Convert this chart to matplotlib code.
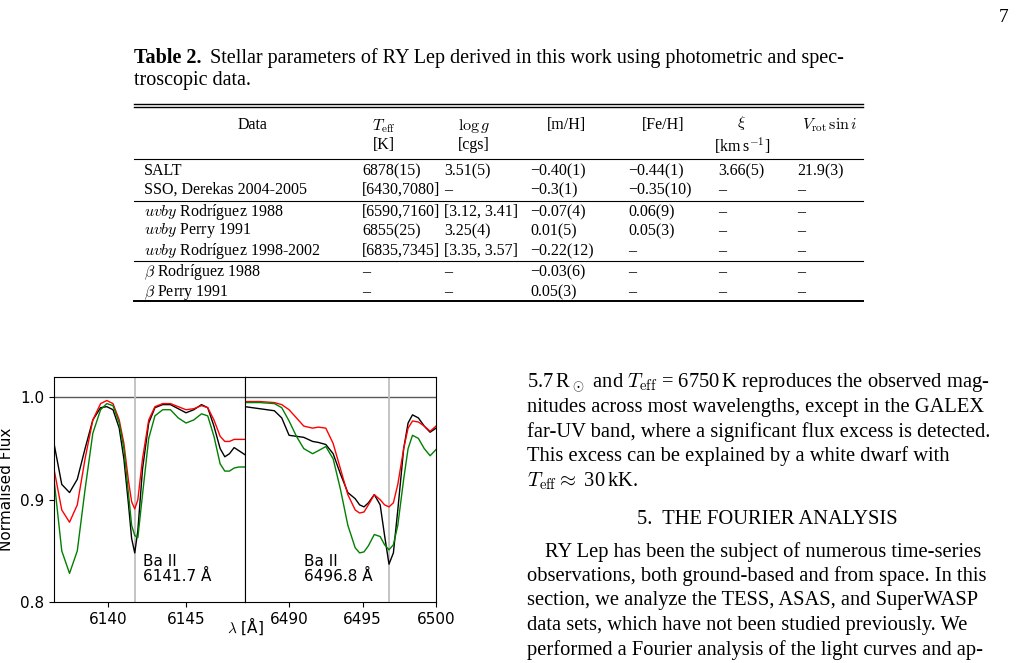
import matplotlib
matplotlib.use("Agg")
import matplotlib.pyplot as plt

plt.rcParams['mathtext.fontset'] = 'cm'
SERIF = 'Liberation Serif'

# ---- data: Ba II 6141.7 panel ----
wl_a = [6136.5, 6137.0, 6137.5, 6138.0, 6138.5, 6139.0, 6139.5, 6139.9, 6140.3, 6140.7, 6141.0,
        6141.3, 6141.5, 6141.7, 6141.9, 6142.2, 6142.6, 6143.0, 6143.5, 6144.0, 6144.5, 6145.0,
        6145.5, 6146.0, 6146.4, 6146.8, 6147.2, 6147.5, 6147.8, 6148.1, 6148.4, 6148.8]
blk_a = [0.955, 0.915, 0.907, 0.920, 0.950, 0.978, 0.990, 0.991, 0.988, 0.970, 0.940,
         0.895, 0.862, 0.848, 0.870, 0.930, 0.975, 0.990, 0.993, 0.993, 0.989, 0.985,
         0.988, 0.993, 0.990, 0.972, 0.950, 0.942, 0.945, 0.951, 0.948, 0.944]
red_a = [0.930, 0.890, 0.878, 0.895, 0.940, 0.978, 0.994, 0.997, 0.994, 0.978, 0.955,
         0.918, 0.898, 0.891, 0.900, 0.940, 0.978, 0.991, 0.994, 0.994, 0.991, 0.988,
         0.989, 0.992, 0.990, 0.978, 0.962, 0.957, 0.957, 0.959, 0.959, 0.959]
grn_a = [0.920, 0.850, 0.828, 0.850, 0.910, 0.965, 0.988, 0.994, 0.992, 0.975, 0.950,
         0.905, 0.875, 0.865, 0.863, 0.905, 0.960, 0.982, 0.988, 0.988, 0.980, 0.975,
         0.978, 0.984, 0.982, 0.962, 0.935, 0.928, 0.928, 0.931, 0.932, 0.932]

# ---- data: Ba II 6496.8 panel ----
wl_b = [6487.0, 6488.0, 6489.0, 6489.5, 6490.0, 6490.5, 6491.0, 6491.6, 6492.0, 6492.5, 6493.0,
        6493.5, 6494.0, 6494.5, 6494.8, 6495.1, 6495.4, 6495.8, 6496.2, 6496.5, 6496.8, 6497.1,
        6497.4, 6497.8, 6498.1, 6498.4, 6498.8, 6499.2, 6499.6, 6500.0]
blk_b = [0.991, 0.989, 0.987, 0.980, 0.963, 0.962, 0.961, 0.957, 0.956, 0.954, 0.945,
         0.925, 0.907, 0.901, 0.895, 0.893, 0.897, 0.905, 0.895, 0.865, 0.837, 0.848,
         0.890, 0.950, 0.975, 0.983, 0.980, 0.972, 0.966, 0.970]
red_b = [0.996, 0.996, 0.995, 0.993, 0.988, 0.980, 0.972, 0.970, 0.971, 0.970, 0.955,
         0.930, 0.905, 0.890, 0.887, 0.888, 0.895, 0.905, 0.900, 0.895, 0.893, 0.897,
         0.915, 0.950, 0.970, 0.977, 0.976, 0.972, 0.967, 0.972]
grn_b = [0.995, 0.995, 0.994, 0.990, 0.977, 0.962, 0.950, 0.945, 0.948, 0.952, 0.940,
         0.910, 0.875, 0.853, 0.848, 0.849, 0.855, 0.866, 0.864, 0.856, 0.851, 0.856,
         0.875, 0.920, 0.950, 0.963, 0.960, 0.950, 0.943, 0.949]

lines = [6141.7, 6496.8]
labels = ["Ba II\n6141.7 Å", "Ba II\n6496.8 Å"]
label_x = [6142.2, 6491.0]

fig = plt.figure(figsize=(10.16, 6.63), dpi=100)
W, H = 1016, 663
def fx(x): return x / W
def fy(y): return 1 - y / H

fig.text(fx(1008), fy(18), "7", ha='right', va='center', family=SERIF, fontsize=14)

# ---- Table ----
tfs = 11.5
fig.text(fx(134), fy(58), "Table 2.", ha='left', va='center', family=SERIF, fontsize=14.5, fontweight='bold')
fig.text(fx(210), fy(58), "Stellar parameters of RY Lep derived in this work using photometric and spec-",
         ha='left', va='center', family=SERIF, fontsize=14.5)
fig.text(fx(134), fy(81), "troscopic data.", ha='left', va='center', family=SERIF, fontsize=14.5)
def rule(y, lw=0.8):
    fig.add_artist(plt.Line2D([fx(134), fx(863)], [fy(y), fy(y)], color='k', lw=lw))
rule(104, 1.0); rule(107, 1.0); rule(159); rule(201); rule(261); rule(301, 1.4)
heads = [(253, "Data"), (384, "$T_{\\rm eff}$\n[K]"), (474, "$\\log g$\n[cgs]"), (567, "[m/H]"),
         (663, "[Fe/H]"), (742, "$\\xi$\n[km$\\,$s$^{-1}$]"), (830, "$V_{\\rm rot}\\,\\sin i$")]
for x, t in heads:
    if "\n" in t:
        fig.text(fx(x), fy(135), t, ha='center', va='center', family=SERIF, fontsize=tfs, linespacing=1.2)
    else:
        fig.text(fx(x), fy(125), t, ha='center', va='center', family=SERIF, fontsize=tfs)
cols = [144, 362, 444, 530, 628, 718, 797]
rows = [
    (171, ["SALT", "6878(15)", "3.51(5)", "−0.40(1)", "−0.44(1)", "3.66(5)", "21.9(3)"]),
    (190, ["SSO, Derekas 2004-2005", "[6430,7080]", "–", "−0.3(1)", "−0.35(10)", "–", "–"]),
    (212, ["$uvby$ Rodríguez 1988", "[6590,7160]", "[3.12, 3.41]", "−0.07(4)", "0.06(9)", "–", "–"]),
    (231, ["$uvby$ Perry 1991", "6855(25)", "3.25(4)", "0.01(5)", "0.05(3)", "–", "–"]),
    (251, ["$uvby$ Rodríguez 1998-2002", "[6835,7345]", "[3.35, 3.57]", "−0.22(12)", "–", "–", "–"]),
    (272, ["$\\beta$ Rodríguez 1988", "–", "–", "−0.03(6)", "–", "–", "–"]),
    (292, ["$\\beta$ Perry 1991", "–", "–", "0.05(3)", "–", "–", "–"]),
]
for y, vals in rows:
    for x, v in zip(cols, vals):
        fig.text(fx(x), fy(y), v, ha='left', va='center', family=SERIF, fontsize=tfs)

# ---- Body text ----
bfs = 14.8
body1 = [
    r"5.7$\,$R$_\odot$ and $T_{\rm eff}$ = 6750$\,$K reproduces the observed mag-",
    "nitudes across most wavelengths, except in the GALEX",
    "far-UV band, where a significant flux excess is detected.",
    "This excess can be explained by a white dwarf with",
    r"$T_{\rm eff}\approx$ 30$\,$kK.",
]
for i, t in enumerate(body1):
    fig.text(fx(527), fy(383 + i * 24.5), t, ha='left', va='center', family=SERIF, fontsize=bfs)
fig.text(fx(767), fy(519), "5.  THE FOURIER ANALYSIS", ha='center', va='center', family=SERIF, fontsize=bfs)
body2 = [
    "RY Lep has been the subject of numerous time-series",
    "observations, both ground-based and from space. In this",
    "section, we analyze the TESS, ASAS, and SuperWASP",
    "data sets, which have not been studied previously. We",
    "performed a Fourier analysis of the light curves and ap-",
]
for i, t in enumerate(body2):
    fig.text(fx(527 + (18 if i == 0 else 0)), fy(552 + i * 24.5), t, ha='left', va='center', family=SERIF, fontsize=bfs)

# ---- Chart ----
left, right, bottom, top = fx(54), fx(436), fy(602), fy(377)
mid = fx(245)
ax1 = fig.add_axes([left, bottom, mid - left, top - bottom])
ax2 = fig.add_axes([mid, bottom, right - mid, top - bottom], sharey=ax1)
for ax, wl, b, r, g, lc, lx, lab, xl, ticks in [
        (ax1, wl_a, blk_a, red_a, grn_a, lines[0], label_x[0], labels[0], (6136.5, 6148.8), [6140, 6145]),
        (ax2, wl_b, blk_b, red_b, grn_b, lines[1], label_x[1], labels[1], (6487.0, 6500.0), [6490, 6495, 6500])]:
    ax.axhline(1.0, color='0.35', lw=1.0)
    ax.axvline(lc, color='0.75', lw=1.3)
    ax.plot(wl, b, color='black', lw=1.0)
    ax.plot(wl, r, color='red', lw=1.0)
    ax.plot(wl, g, color='green', lw=1.0)
    ax.set_xlim(*xl)
    ax.set_xticks(ticks)
    ax.tick_params(labelsize=11)
    ax.text(lx, 0.832, lab, fontsize=11, ha='left', va='center', linespacing=1.0)
ax1.set_ylim(0.8, 1.02)
ax1.set_yticks([0.8, 0.9, 1.0])
ax1.set_ylabel("Normalised Flux", fontsize=11)
ax2.tick_params(labelleft=False, left=False)
fig.text((left + right) / 2, fy(626), r"$\lambda$ [Å]", ha='center', va='center', fontsize=11)

fig.savefig("out.png", dpi=100)
